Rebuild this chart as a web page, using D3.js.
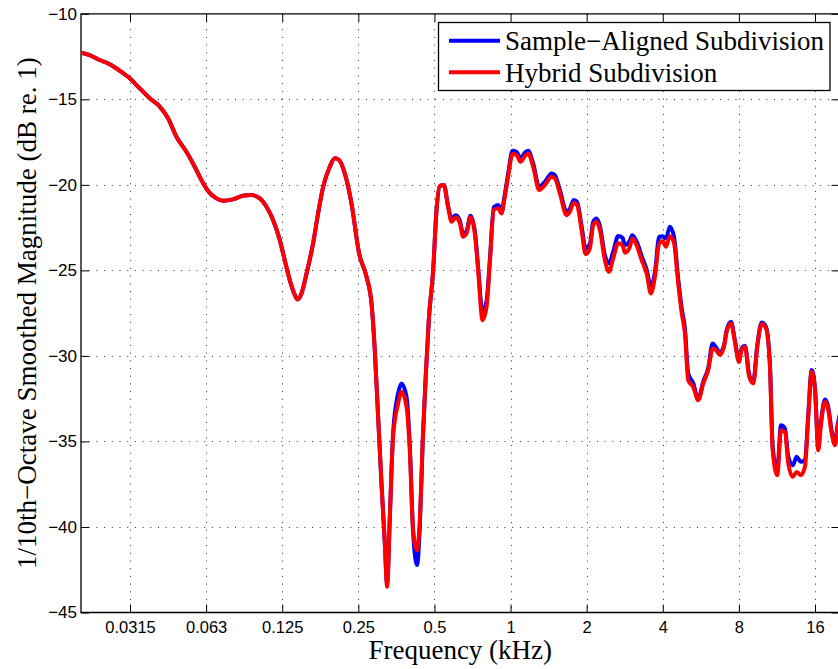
<!DOCTYPE html>
<html><head><meta charset="utf-8">
<script src="https://cdn.jsdelivr.net/npm/d3@7"></script>
<style>body{margin:0;background:#fff;overflow:hidden}</style>
</head><body><svg id="c" width="838" height="669"></svg>
<script>
const freqKHz = [0.0200,0.02165,0.02371,0.02597,0.02846,0.03117,0.03415,0.03740,0.04098,0.04419,0.04769,0.05222,0.05633,0.05987,0.06360,0.06868,0.07290,0.07986,0.08747,0.09438,0.1019,0.1083,0.1150,0.1223,0.1279,0.1339,0.1402,0.1436,0.1490,0.1560,0.1656,0.1733,0.1815,0.1928,0.2018,0.2098,0.2210,0.2349,0.2517,0.2693,0.2819,0.2904,0.2994,0.3087,0.3182,0.3249,0.3331,0.3431,0.3592,0.3703,0.3877,0.3994,0.4117,0.4268,0.4376,0.4496,0.4622,0.4749,0.4941,0.5094,0.5252,0.5446,0.5664,0.5840,0.6076,0.6302,0.6493,0.6698,0.6944,0.7223,0.7442,0.7747,0.8037,0.8280,0.8586,0.8931,0.9213,0.9491,0.9780,1.0182,1.0563,1.0952,1.1392,1.1737,1.2285,1.2977,1.3669,1.4530,1.4970,1.5670,1.6655,1.7160,1.7800,1.8340,1.9092,1.9806,2.0592,2.1226,2.1886,2.2563,2.3604,2.4486,2.5474,2.6651,2.7743,2.8326,2.9650,3.0274,3.1517,3.2990,3.4533,3.5901,3.7245,3.8719,3.9945,4.1153,4.2693,4.4259,4.6044,4.7503,4.8941,5.0422,5.2780,5.5249,5.7833,6.0506,6.2986,6.4934,6.7319,6.9835,7.1553,7.4434,7.7162,8.0055,8.2023,8.4558,8.7906,9.1194,9.4553,9.8437,10.238,10.616,10.882,11.345,11.737,12.169,12.544,13.059,13.540,14.045,14.603,15.050,15.520,16.0,16.487,16.853,17.522,18.060,18.626,19.199,19.674,20.0];

const hybrid = [-12.27,-12.41,-12.70,-12.95,-13.33,-13.77,-14.36,-14.94,-15.43,-16.11,-17.19,-18.06,-18.94,-19.72,-20.36,-20.79,-20.93,-20.85,-20.64,-20.60,-20.79,-21.28,-22.06,-23.23,-24.40,-25.57,-26.44,-26.70,-26.35,-25.18,-23.42,-21.67,-20.11,-18.94,-18.45,-18.55,-19.33,-21.08,-24.0,-25.37,-26.93,-29.66,-33.56,-37.46,-40.96,-43.50,-39.41,-34.73,-32.78,-32.10,-32.98,-35.51,-40.19,-41.36,-39.6,-34.9,-31.1,-27.9,-25.0,-21.5,-20.07,-20.01,-21.28,-22.16,-21.90,-22.25,-23.03,-22.84,-21.90,-22.84,-24.98,-27.91,-27.13,-24.59,-21.47,-21.37,-21.67,-20.70,-19.53,-18.20,-18.26,-18.65,-18.32,-18.16,-18.94,-20.30,-20.01,-19.53,-19.62,-20.50,-21.77,-21.57,-21.04,-21.18,-22.64,-24.05,-23.71,-22.35,-22.16,-22.64,-24.40,-25.08,-24.30,-23.42,-23.52,-23.97,-23.62,-23.13,-23.52,-24.40,-25.18,-26.35,-25.37,-23.42,-23.28,-23.62,-23.0,-23.37,-25.76,-27.47,-28.68,-31.42,-31.81,-32.59,-31.61,-30.83,-29.56,-29.66,-29.94,-29.47,-28.59,-28.10,-29.18,-30.35,-29.66,-29.47,-31.22,-31.61,-29.47,-28.14,-28.39,-30.63,-35.51,-36.97,-34.34,-34.44,-36.29,-37.07,-36.78,-36.97,-36.48,-33.56,-30.92,-32.0,-35.51,-34.15,-32.68,-33.17,-34.53,-35.22,-34.15,-33.6];

const sampleAligned = [-12.27,-12.41,-12.70,-12.95,-13.33,-13.77,-14.36,-14.94,-15.43,-16.11,-17.19,-18.06,-18.94,-19.72,-20.36,-20.79,-20.93,-20.85,-20.64,-20.60,-20.79,-21.28,-22.06,-23.23,-24.40,-25.57,-26.44,-26.70,-26.35,-25.18,-23.42,-21.67,-20.11,-18.94,-18.45,-18.55,-19.33,-21.08,-24.0,-25.37,-26.93,-29.66,-33.56,-37.46,-40.96,-43.3,-39.41,-34.5,-32.19,-31.61,-32.39,-35.2,-40.3,-42.23,-40.0,-34.9,-31.1,-27.9,-25.0,-21.5,-20.07,-20.01,-21.28,-21.95,-21.77,-22.1,-22.85,-22.7,-21.8,-22.7,-24.8,-27.42,-26.8,-24.4,-21.3,-21.18,-21.5,-20.55,-19.35,-18.01,-18.08,-18.45,-18.12,-18.0,-18.75,-20.11,-19.82,-19.33,-19.43,-20.3,-21.57,-21.4,-20.89,-21.0,-22.4,-23.71,-23.45,-22.16,-21.96,-22.4,-24.11,-24.59,-23.9,-22.99,-23.1,-23.52,-23.25,-22.94,-23.3,-24.15,-24.95,-25.96,-25.1,-23.03,-23.0,-23.13,-22.45,-23.0,-25.5,-27.2,-28.4,-31.02,-31.6,-32.5,-31.5,-30.7,-29.27,-29.5,-29.8,-29.4,-28.5,-28.0,-29.1,-30.25,-29.55,-29.4,-31.1,-31.5,-29.4,-28.05,-28.3,-30.5,-35.3,-36.7,-34.05,-34.24,-35.90,-36.39,-35.90,-36.19,-36.1,-33.4,-30.83,-31.9,-35.3,-34.0,-32.55,-33.0,-34.4,-35.05,-34.0,-33.5];

const xTickValues = [0.03125,0.0625,0.125,0.25,0.5,1,2,4,8,16];
const xTickLabels = ["0.0315","0.063","0.125","0.25","0.5","1","2","4","8","16"];
const yTickValues = [-45,-40,-35,-30,-25,-20,-15,-10];
const seriesNames = ["Sample\u2212Aligned Subdivision","Hybrid Subdivision"];
const seriesColors = ["#0000ff","#ff0000"];

const L = 81, R = 839.5, T = 13.8, B = 612.5;
const x = d3.scaleLog().domain([0.02, 20]).range([L, R]);
const y = d3.scaleLinear().domain([-45, -10]).range([B, T]);

const svg = d3.select("#c");
svg.append("rect").attr("width",838).attr("height",669).attr("fill","#fff");

// grid
const grid = svg.append("g").attr("stroke","#333").attr("stroke-width",1).attr("stroke-dasharray","1,6.7");
grid.selectAll("line.v").data(xTickValues).join("line")
  .attr("x1",d=>Math.round(x(d))+0.5).attr("x2",d=>Math.round(x(d))+0.5)
  .attr("y1",T).attr("y2",B);
grid.selectAll("line.h").data(yTickValues.filter(d=>d>-45 && d<-10)).join("line")
  .attr("class","h")
  .attr("y1",d=>Math.round(y(d))+0.5).attr("y2",d=>Math.round(y(d))+0.5)
  .attr("x1",L).attr("x2",R);

// axes
const fmtMinus = d => d < 0 ? "\u2212" + Math.abs(d) : String(d);
const xAxis = d3.axisBottom(x).tickValues(xTickValues).tickFormat((d,i)=>xTickLabels[i])
  .tickSizeInner(-8).tickSizeOuter(0).tickPadding(8.5);
const gx = svg.append("g").attr("transform",`translate(0,${B})`).call(xAxis);
gx.select(".domain").remove();
gx.selectAll("text").attr("font-family","'Liberation Sans',Arial,sans-serif").attr("font-size",16.5).attr("fill","#000");
gx.selectAll("line").attr("stroke","#000");

const xAxisTop = d3.axisTop(x).tickValues(xTickValues).tickFormat("").tickSizeInner(-8).tickSizeOuter(0);
const gxt = svg.append("g").attr("transform",`translate(0,${T})`).call(xAxisTop);
gxt.select(".domain").remove();
gxt.selectAll("line").attr("stroke","#000");

const yAxis = d3.axisLeft(y).tickValues(yTickValues).tickFormat(fmtMinus).tickSizeInner(-8).tickSizeOuter(0).tickPadding(4);
const gy = svg.append("g").attr("transform",`translate(${L},0)`).call(yAxis);
gy.select(".domain").remove();
gy.selectAll("text").attr("font-family","'Liberation Sans',Arial,sans-serif").attr("font-size",17).attr("fill","#000");
gy.selectAll("line").attr("stroke","#000");

const yAxisR = d3.axisRight(y).tickValues(yTickValues).tickFormat("").tickSizeInner(-8).tickSizeOuter(0);
const gyr = svg.append("g").attr("transform",`translate(${R},0)`).call(yAxisR);
gyr.select(".domain").remove();
gyr.selectAll("line").attr("stroke","#000");

// frame
svg.append("path").attr("d",`M${R},${T}H${L}V${B}H${R}`).attr("fill","none").attr("stroke","#000").attr("stroke-width",1.3);

// clip
svg.append("clipPath").attr("id","clip").append("rect").attr("x",L).attr("y",T).attr("width",R-L).attr("height",B-T);

const line = d3.line().curve(d3.curveMonotoneX).x(d=>x(d[0])).y(d=>y(d[1]));
const series = [sampleAligned, hybrid];
const gl = svg.append("g").attr("clip-path","url(#clip)");
series.forEach((s,i)=>{
  gl.append("path").datum(freqKHz.map((f,j)=>[f,s[j]]))
    .attr("d",line).attr("fill","none").attr("stroke",seriesColors[i])
    .attr("stroke-width",4).attr("stroke-linejoin","round").attr("stroke-linecap","round");
});

// legend
const lg = svg.append("g");
lg.append("rect").attr("x",438.5).attr("y",22.5).attr("width",391.5).attr("height",68)
  .attr("fill","#fff").attr("stroke","#000").attr("stroke-width",1.3);
seriesNames.forEach((n,i)=>{
  const yy = 40.7 + i*31.6;
  lg.append("line").attr("x1",449).attr("x2",500).attr("y1",yy).attr("y2",yy)
    .attr("stroke",seriesColors[i]).attr("stroke-width",4);
  lg.append("text").attr("x",505).attr("y",yy+9.5).text(n)
    .attr("font-family","'Liberation Serif','Times New Roman',serif").attr("font-size",27).attr("fill","#000");
});

// axis titles
svg.append("text").attr("x",(L+R)/2).attr("y",659).attr("text-anchor","middle")
  .attr("font-family","'Liberation Serif','Times New Roman',serif").attr("font-size",27).attr("fill","#000")
  .text("Frequency (kHz)");
svg.append("text").attr("transform",`translate(36,${(T+B)/2}) rotate(-90)`).attr("text-anchor","middle")
  .attr("font-family","'Liberation Serif','Times New Roman',serif").attr("font-size",27).attr("fill","#000")
  .text("1/10th\u2212Octave Smoothed Magnitude (dB re. 1)");
</script>
</body></html>
